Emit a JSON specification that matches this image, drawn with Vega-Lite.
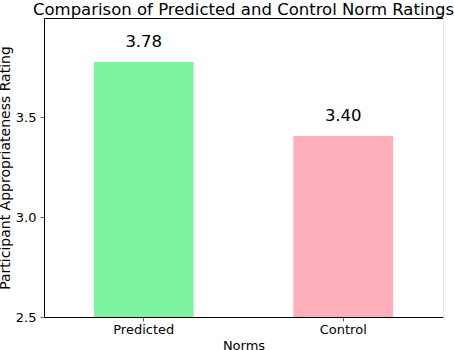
{
  "$schema": "https://vega.github.io/schema/vega-lite/v6.json",
  "width": 399,
  "height": 299,
  "autosize": "none",
  "padding": {"left": 44, "top": 18, "right": 11, "bottom": 33},
  "background": "white",
  "title": {
    "text": "Comparison of Predicted and Control Norm Ratings",
    "font": "DejaVu Sans",
    "fontSize": 16.5,
    "fontWeight": "normal",
    "color": "black",
    "anchor": "middle",
    "offset": 0
  },
  "config": {
    "view": {"stroke": null},
    "axis": {
      "labelFont": "DejaVu Sans",
      "titleFont": "DejaVu Sans",
      "labelColor": "black",
      "titleColor": "black",
      "titleFontWeight": "normal",
      "grid": false
    }
  },
  "data": {
    "values": [
      {"norm": "Predicted", "rating": 3.775, "label": "3.78"},
      {"norm": "Control", "rating": 3.405, "label": "3.40"}
    ]
  },
  "layer": [
    {
      "mark": {"type": "bar", "clip": true},
      "encoding": {
        "x": {
          "field": "norm",
          "type": "nominal",
          "sort": ["Predicted", "Control"],
          "scale": {"paddingInner": 0.5, "paddingOuter": 0.25},
          "axis": {
            "title": "Norms",
            "labelAngle": 0,
            "labelFontSize": 13,
            "titleFontSize": 13,
            "labelPadding": 2,
            "titlePadding": 3,
            "tickSize": 4,
            "tickColor": "#666",
            "domainColor": "black",
            "domainWidth": 1
          }
        },
        "y": {
          "field": "rating",
          "type": "quantitative",
          "scale": {"domain": [2.5, 3.995], "zero": false, "nice": false},
          "axis": {
            "title": "Participant Appropriateness Rating",
            "values": [2.5, 3.0, 3.5],
            "format": ".1f",
            "labelFontSize": 13,
            "titleFontSize": 14,
            "labelPadding": 4,
            "titlePadding": 3,
            "tickSize": 4,
            "tickColor": "#666",
            "domainColor": "black",
            "domainWidth": 1
          }
        },
        "color": {
          "field": "norm",
          "type": "nominal",
          "scale": {"domain": ["Predicted", "Control"], "range": ["#7ef49f", "#ffaebb"]},
          "legend": null
        }
      }
    },
    {
      "mark": {"type": "text", "font": "DejaVu Sans", "fontSize": 16.5, "color": "black", "baseline": "alphabetic", "dy": -15},
      "encoding": {
        "x": {
          "field": "norm",
          "type": "nominal",
          "sort": ["Predicted", "Control"],
          "axis": {"orient": "top", "labels": false, "ticks": false, "title": null, "domainColor": "black", "domainWidth": 1}
        },
        "y": {
          "field": "rating",
          "type": "quantitative",
          "axis": {"orient": "right", "labels": false, "ticks": false, "title": null, "domainColor": "#e8e8e8", "domainWidth": 1}
        },
        "text": {"field": "label"}
      }
    }
  ],
  "resolve": {"axis": {"x": "independent", "y": "independent"}}
}
